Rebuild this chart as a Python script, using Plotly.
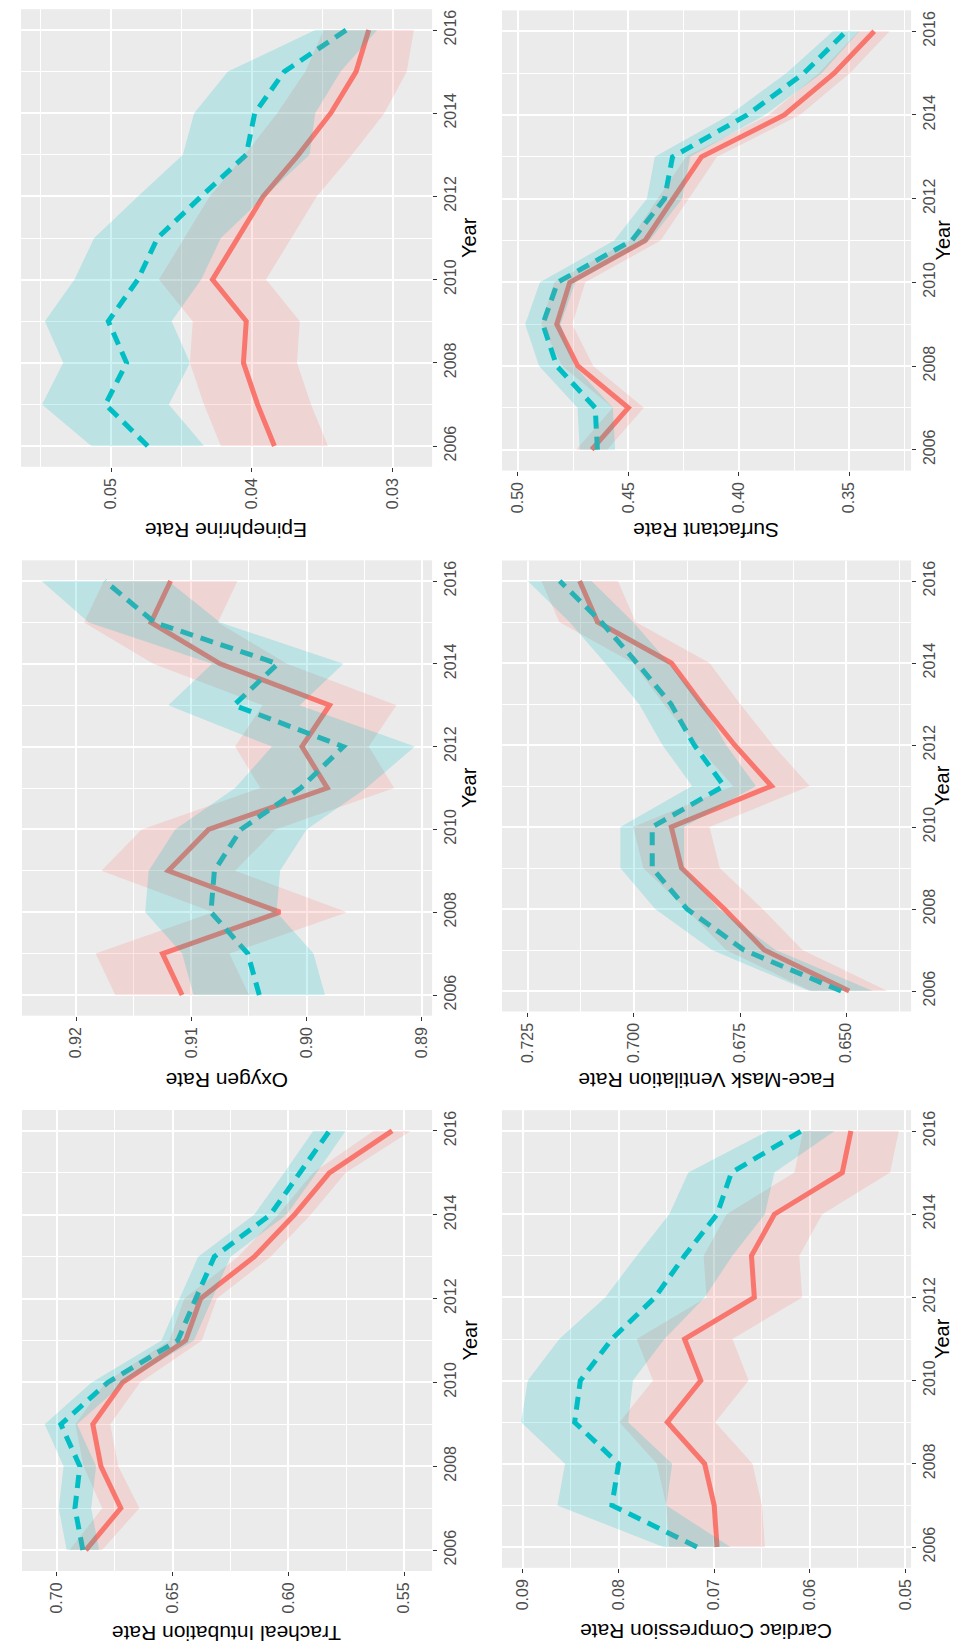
import plotly.graph_objects as go

# ---------------- data ----------------
YEARS = [2006, 2007, 2008, 2009, 2010, 2011, 2012, 2013, 2014, 2015, 2016]
YEAR_TICKS = [2006, 2008, 2010, 2012, 2014, 2016]
YEAR_TICK_TEXT = ["2006", "2008", "2010", "2012", "2014", "2016"]
YEAR_MINOR = [2007, 2009, 2011, 2013, 2015]

# Epinephrine
EPI_RED = [0.0384, 0.0396, 0.0406, 0.0404, 0.0428, 0.0410, 0.0392, 0.0367, 0.0344, 0.0326, 0.0317]
EPI_RED_LO = [0.0346, 0.0358, 0.0368, 0.0366, 0.0390, 0.0372, 0.0354, 0.0329, 0.0306, 0.0290, 0.0285]
EPI_RED_HI = [0.0422, 0.0434, 0.0444, 0.0442, 0.0466, 0.0448, 0.0430, 0.0405, 0.0382, 0.0362, 0.0349]
EPI_TEAL = [0.0474, 0.0504, 0.0489, 0.0502, 0.0481, 0.0467, 0.0436, 0.0404, 0.0398, 0.0377, 0.0333]
EPI_TEAL_LO = [0.0434, 0.0459, 0.0444, 0.0457, 0.0436, 0.0422, 0.0391, 0.0359, 0.0355, 0.0337, 0.0311]
EPI_TEAL_HI = [0.0514, 0.0549, 0.0534, 0.0547, 0.0526, 0.0512, 0.0481, 0.0449, 0.0441, 0.0417, 0.0355]
EPI_TICKS = [0.03, 0.04, 0.05]
EPI_TICK_TEXT = ["0.03", "0.04", "0.05"]
EPI_MINOR = [0.035, 0.045, 0.055]

# Oxygen
OXY_RED = [0.9108, 0.9125, 0.9023, 0.9120, 0.9085, 0.8982, 0.9004, 0.8980, 0.9075, 0.9135, 0.9118]
OXY_RED_LO = [0.9050, 0.9067, 0.8965, 0.9062, 0.9027, 0.8924, 0.8946, 0.8922, 0.9017, 0.9077, 0.9060]
OXY_RED_HI = [0.9166, 0.9183, 0.9081, 0.9178, 0.9143, 0.9040, 0.9062, 0.9038, 0.9133, 0.9193, 0.9176]
OXY_TEAL = [0.9041, 0.9051, 0.9083, 0.9080, 0.9057, 0.9005, 0.8968, 0.9063, 0.9025, 0.9132, 0.9175]
OXY_TEAL_LO = [0.8984, 0.8994, 0.9026, 0.9023, 0.9000, 0.8948, 0.8906, 0.9006, 0.8968, 0.9075, 0.9120]
OXY_TEAL_HI = [0.9098, 0.9108, 0.9140, 0.9137, 0.9114, 0.9062, 0.9030, 0.9120, 0.9082, 0.9189, 0.9230]
OXY_TICKS = [0.89, 0.90, 0.91, 0.92]
OXY_TICK_TEXT = ["0.89", "0.90", "0.91", "0.92"]
OXY_MINOR = [0.895, 0.905, 0.915]

# Tracheal intubation
TRA_RED = [0.6875, 0.6724, 0.6810, 0.6845, 0.6716, 0.6444, 0.6379, 0.6147, 0.5974, 0.5823, 0.5552]
TRA_RED_LO = [0.6805, 0.6644, 0.6735, 0.6770, 0.6641, 0.6374, 0.6309, 0.6077, 0.5904, 0.5753, 0.5472]
TRA_RED_HI = [0.6945, 0.6804, 0.6885, 0.6920, 0.6791, 0.6514, 0.6449, 0.6217, 0.6044, 0.5893, 0.5632]
TRA_TEAL = [0.6888, 0.6922, 0.6901, 0.6983, 0.6780, 0.6478, 0.6400, 0.6320, 0.6078, 0.5948, 0.5823]
TRA_TEAL_LO = [0.6818, 0.6852, 0.6831, 0.6913, 0.6710, 0.6408, 0.6330, 0.6250, 0.6008, 0.5878, 0.5753]
TRA_TEAL_HI = [0.6958, 0.6992, 0.6971, 0.7053, 0.6850, 0.6548, 0.6470, 0.6390, 0.6148, 0.6018, 0.5893]
TRA_TICKS = [0.55, 0.60, 0.65, 0.70]
TRA_TICK_TEXT = ["0.55", "0.60", "0.65", "0.70"]
TRA_MINOR = [0.575, 0.625, 0.675]

# Surfactant
SUR_RED = [0.4666, 0.4500, 0.4729, 0.4824, 0.4765, 0.4424, 0.4297, 0.4169, 0.3794, 0.3568, 0.3387]
SUR_RED_LO = [0.4596, 0.4430, 0.4659, 0.4754, 0.4695, 0.4354, 0.4227, 0.4099, 0.3724, 0.3498, 0.3317]
SUR_RED_HI = [0.4736, 0.4570, 0.4799, 0.4894, 0.4835, 0.4494, 0.4367, 0.4239, 0.3864, 0.3638, 0.3457]
SUR_TEAL = [0.4640, 0.4650, 0.4824, 0.4887, 0.4820, 0.4484, 0.4336, 0.4300, 0.3962, 0.3705, 0.3514]
SUR_TEAL_LO = [0.4560, 0.4570, 0.4744, 0.4807, 0.4740, 0.4404, 0.4256, 0.4220, 0.3882, 0.3625, 0.3454]
SUR_TEAL_HI = [0.4720, 0.4730, 0.4904, 0.4967, 0.4900, 0.4564, 0.4416, 0.4380, 0.4042, 0.3785, 0.3574]
SUR_TICKS = [0.35, 0.40, 0.45, 0.50]
SUR_TICK_TEXT = ["0.35", "0.40", "0.45", "0.50"]
SUR_MINOR = [0.325, 0.375, 0.425, 0.475]

# Face-mask ventilation
FM_RED = [0.6493, 0.6693, 0.6787, 0.6888, 0.6912, 0.6676, 0.6763, 0.6840, 0.6912, 0.7086, 0.7128]
FM_RED_LO = [0.6403, 0.6603, 0.6697, 0.6798, 0.6822, 0.6586, 0.6673, 0.6750, 0.6822, 0.6996, 0.7038]
FM_RED_HI = [0.6583, 0.6783, 0.6877, 0.6978, 0.7002, 0.6766, 0.6853, 0.6930, 0.7002, 0.7176, 0.7218]
FM_TEAL = [0.6512, 0.6741, 0.6875, 0.6957, 0.6957, 0.6788, 0.6858, 0.6913, 0.6993, 0.7077, 0.7175]
FM_TEAL_LO = [0.6437, 0.6666, 0.6800, 0.6882, 0.6882, 0.6713, 0.6783, 0.6838, 0.6918, 0.7002, 0.7100]
FM_TEAL_HI = [0.6587, 0.6816, 0.6950, 0.7032, 0.7032, 0.6863, 0.6933, 0.6988, 0.7068, 0.7152, 0.7250]
FM_TICKS = [0.650, 0.675, 0.700, 0.725]
FM_TICK_TEXT = ["0.650", "0.675", "0.700", "0.725"]
FM_MINOR = [0.6375, 0.6625, 0.6875, 0.7125]

# Cardiac compression
CC_RED = [0.0697, 0.0700, 0.0710, 0.0749, 0.0714, 0.0731, 0.0658, 0.0661, 0.0637, 0.0566, 0.0557]
CC_RED_LO = [0.0647, 0.0650, 0.0660, 0.0699, 0.0664, 0.0681, 0.0608, 0.0611, 0.0587, 0.0516, 0.0507]
CC_RED_HI = [0.0747, 0.0750, 0.0760, 0.0799, 0.0764, 0.0781, 0.0708, 0.0711, 0.0687, 0.0616, 0.0607]
CC_TEAL = [0.0718, 0.0807, 0.0800, 0.0846, 0.0840, 0.0807, 0.0762, 0.0731, 0.0697, 0.0682, 0.0609]
CC_TEAL_LO = [0.0683, 0.0750, 0.0744, 0.0790, 0.0785, 0.0752, 0.0710, 0.0681, 0.0647, 0.0637, 0.0574]
CC_TEAL_HI = [0.0753, 0.0864, 0.0856, 0.0902, 0.0895, 0.0862, 0.0814, 0.0781, 0.0747, 0.0727, 0.0644]
CC_TICKS = [0.05, 0.06, 0.07, 0.08, 0.09]
CC_TICK_TEXT = ["0.05", "0.06", "0.07", "0.08", "0.09"]
CC_MINOR = [0.055, 0.065, 0.075, 0.085]

PANELS = [
    dict(title="Epinephrine Rate", red=EPI_RED, rlo=EPI_RED_LO, rhi=EPI_RED_HI,
         teal=EPI_TEAL, tlo=EPI_TEAL_LO, thi=EPI_TEAL_HI,
         ticks=EPI_TICKS, ticktext=EPI_TICK_TEXT, minor=EPI_MINOR),
    dict(title="Oxygen Rate", red=OXY_RED, rlo=OXY_RED_LO, rhi=OXY_RED_HI,
         teal=OXY_TEAL, tlo=OXY_TEAL_LO, thi=OXY_TEAL_HI,
         ticks=OXY_TICKS, ticktext=OXY_TICK_TEXT, minor=OXY_MINOR),
    dict(title="Tracheal Intubation Rate", red=TRA_RED, rlo=TRA_RED_LO, rhi=TRA_RED_HI,
         teal=TRA_TEAL, tlo=TRA_TEAL_LO, thi=TRA_TEAL_HI,
         ticks=TRA_TICKS, ticktext=TRA_TICK_TEXT, minor=TRA_MINOR),
    dict(title="Surfactant Rate", red=SUR_RED, rlo=SUR_RED_LO, rhi=SUR_RED_HI,
         teal=SUR_TEAL, tlo=SUR_TEAL_LO, thi=SUR_TEAL_HI,
         ticks=SUR_TICKS, ticktext=SUR_TICK_TEXT, minor=SUR_MINOR),
    dict(title="Face-Mask Ventilation Rate", red=FM_RED, rlo=FM_RED_LO, rhi=FM_RED_HI,
         teal=FM_TEAL, tlo=FM_TEAL_LO, thi=FM_TEAL_HI,
         ticks=FM_TICKS, ticktext=FM_TICK_TEXT, minor=FM_MINOR),
    dict(title="Cardiac Compression Rate", red=CC_RED, rlo=CC_RED_LO, rhi=CC_RED_HI,
         teal=CC_TEAL, tlo=CC_TEAL_LO, thi=CC_TEAL_HI,
         ticks=CC_TICKS, ticktext=CC_TICK_TEXT, minor=CC_MINOR),
]

# ---------------- layout geometry (pixels) ----------------
W, H = 958, 1648
GEOM = [
    dict(box=(13, 425, 1.2, 458.8), vrange=(0.0564, 0.0272), title_y=523, year_x=462),
    dict(box=(14, 425, 552.3, 1007.7), vrange=(0.9247, 0.8891), title_y=1073, year_x=462),
    dict(box=(14, 425, 1102, 1563), vrange=(0.7151, 0.5379), title_y=1626, year_x=462),
    dict(box=(495, 905, 2.4, 462.6), vrange=(0.5072, 0.3220), title_y=523, year_x=936),
    dict(box=(495, 905, 552.5, 1003.5), vrange=(0.7311, 0.6347), title_y=1073, year_x=936),
    dict(box=(495, 905, 1102.2, 1559.8), vrange=(0.0922, 0.0494), title_y=1624, year_x=936),
]

RED = "#F8766D"
TEAL = "#00BFC4"
RED_FILL = "rgba(248,118,109,0.2)"
TEAL_FILL = "rgba(0,191,196,0.2)"
FONT = "Liberation Sans, Arial, Helvetica, sans-serif"

fig = go.Figure()
annotations = []
layout_axes = {}

for i, (p, g) in enumerate(zip(PANELS, GEOM), start=1):
    xa = "x" if i == 1 else f"x{i}"
    ya = "y" if i == 1 else f"y{i}"
    fig.add_trace(go.Scatter(x=p["red"], y=YEARS, mode="lines", xaxis=xa, yaxis=ya,
                             line=dict(color=RED, width=5), hoverinfo="skip"))
    fig.add_trace(go.Scatter(x=p["teal"], y=YEARS, mode="lines", xaxis=xa, yaxis=ya,
                             line=dict(color=TEAL, width=5, dash="13px,8px"), hoverinfo="skip"))
    fig.add_trace(go.Scatter(x=p["rhi"] + p["rlo"][::-1], y=YEARS + YEARS[::-1],
                             fill="toself", fillcolor=RED_FILL, mode="lines",
                             line=dict(width=0, color=RED_FILL), xaxis=xa, yaxis=ya,
                             hoverinfo="skip"))
    fig.add_trace(go.Scatter(x=p["thi"] + p["tlo"][::-1], y=YEARS + YEARS[::-1],
                             fill="toself", fillcolor=TEAL_FILL, mode="lines",
                             line=dict(width=0, color=TEAL_FILL), xaxis=xa, yaxis=ya,
                             hoverinfo="skip"))

    l, r, t, b = g["box"]
    xdom = [l / W, r / W]
    ydom = [1 - b / H, 1 - t / H]
    xkey = "xaxis" if i == 1 else f"xaxis{i}"
    ykey = "yaxis" if i == 1 else f"yaxis{i}"
    layout_axes[xkey] = dict(
        domain=xdom, anchor=ya, range=list(g["vrange"]),
        tickmode="array", tickvals=p["ticks"], ticktext=p["ticktext"],
        tickangle=-90, ticks="outside", ticklen=4, tickwidth=1, tickcolor="#333333",
        tickfont=dict(family=FONT, size=16, color="#4D4D4D"),
        showgrid=True, gridcolor="white", gridwidth=1.6,
        minor=dict(tickmode="array", tickvals=p["minor"], showgrid=True,
                   gridcolor="white", gridwidth=0.8, ticks=""),
        zeroline=False, showline=False, fixedrange=True,
    )
    layout_axes[ykey] = dict(
        domain=ydom, anchor=xa, side="right", range=[2005.5, 2016.5],
        tickmode="array", tickvals=YEAR_TICKS, ticktext=YEAR_TICK_TEXT,
        tickangle=-90, ticks="outside", ticklen=4, tickwidth=1, tickcolor="#333333",
        tickfont=dict(family=FONT, size=16, color="#4D4D4D"),
        showgrid=True, gridcolor="white", gridwidth=1.6,
        minor=dict(tickmode="array", tickvals=YEAR_MINOR, showgrid=True,
                   gridcolor="white", gridwidth=0.8, ticks=""),
        zeroline=False, showline=False, fixedrange=True,
    )
    annotations.append(dict(text=p["title"], xref="paper", yref="paper",
                            x=(l + r) / 2 / W, y=1 - g["title_y"] / H,
                            xanchor="center", yanchor="middle", textangle=180,
                            showarrow=False, font=dict(family=FONT, size=21, color="black")))
    annotations.append(dict(text="Year", xref="paper", yref="paper",
                            x=g["year_x"] / W, y=1 - (t + b) / 2 / H,
                            xanchor="center", yanchor="middle", textangle=-90,
                            showarrow=False, font=dict(family=FONT, size=20, color="black")))

fig.update_layout(
    width=W, height=H, margin=dict(l=0, r=0, t=0, b=0),
    paper_bgcolor="white", plot_bgcolor="#EBEBEB",
    showlegend=False, annotations=annotations, **layout_axes,
)

fig.write_html("out.html")
